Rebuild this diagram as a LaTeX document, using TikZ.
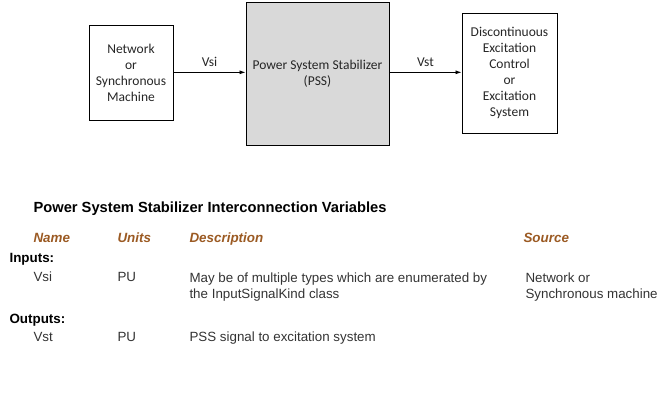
\documentclass[tikz,border=0pt]{standalone}
\usepackage{fontspec}
\setmainfont{Carlito}
\newfontfamily\arialf{Liberation Sans}
\usetikzlibrary{arrows.meta}
\definecolor{psgray}{RGB}{217,217,217}
\definecolor{hdrbrown}{RGB}{155,90,35}
\begin{document}
\begin{tikzpicture}[x=1pt,y=-1pt,
  blk/.style={draw=black,line width=0.9pt,align=center,font=\fontsize{13.5}{16}\selectfont,text=black!85},
  conn/.style={draw=black,line width=0.8pt,-{Latex[length=6pt,width=4pt]}},
  lbl/.style={font=\fontsize{13.5}{15}\selectfont,text=black!85},
  fix/.style={text height=0.72em,text depth=0.22em},
  ttl/.style={anchor=west,fix,font=\arialf\bfseries\fontsize{14.7}{16}\selectfont},
  hdr/.style={anchor=west,fix,font=\arialf\bfseries\itshape\fontsize{13.4}{15}\selectfont,text=hdrbrown},
  sec/.style={anchor=west,fix,font=\arialf\bfseries\fontsize{13.4}{15}\selectfont},
  cell/.style={anchor=west,font=\arialf\fontsize{13.35}{16}\selectfont,text=black!80,align=left},
  cell1/.style={cell,fix}]
\useasboundingbox (0,0) rectangle (668,400);
\node[blk,minimum width=84,minimum height=95] (net) at (131,73) {Network\\or\\Synchronous\\Machine};
\node[blk,fill=psgray,minimum width=143,minimum height=143] (pss) at (317.5,73.5) {Power System Stabilizer\\(PSS)};
\node[blk,minimum width=95,minimum height=120] (exc) at (509.5,73) {Discontinuous\\Excitation\\Control\\or\\Excitation\\System};
\coordinate (a1) at (net.east |- 0,72.3);
\coordinate (a2) at (pss.west |- 0,72.3);
\coordinate (b1) at (pss.east |- 0,72.3);
\coordinate (b2) at (exc.west |- 0,72.3);
\draw[conn] (a1) -- node[lbl,above=1.5pt] (vsi) {Vsi} (a2);
\draw[conn] (b1) -- node[lbl,above=1.5pt] (vst) {Vst} (b2);
\node[ttl] (title) at (30,209.5) {Power System Stabilizer Interconnection Variables};
\node[hdr] (hname) at (30,239.5) {Name};
\node[hdr] (hunits) at (114,239.5) {Units};
\node[hdr] (hdesc) at (186,239.5) {Description};
\node[hdr] (hsrc) at (520,239.5) {Source};
\node[sec] (inputs) at (6,259.5) {Inputs:};
\node[cell1] (vsin) at (30,278.5) {Vsi};
\node[cell1] (vsiu) at (114,278.5) {PU};
\node[cell,anchor=north west] (vsid) at (186,269) {May be of multiple types which are enumerated by\\the InputSignalKind class};
\node[cell,anchor=north west] (vsis) at (522,269) {Network or\\Synchronous machine};
\node[sec] (outputs) at (6,320.5) {Outputs:};
\node[cell1] (vstn) at (30,338.5) {Vst};
\node[cell1] (vstu) at (114,338.5) {PU};
\node[cell1] (vstd) at (186,338.5) {PSS signal to excitation system};
\end{tikzpicture}
\end{document}
